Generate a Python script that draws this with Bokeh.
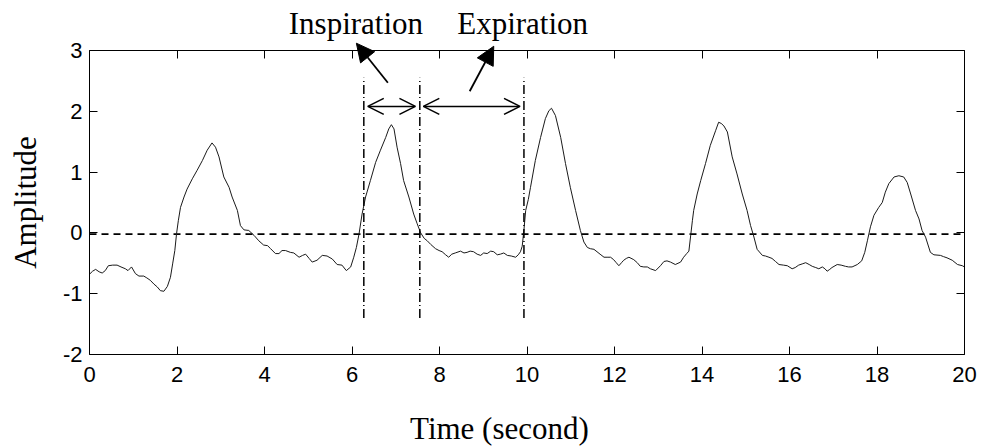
import math
from bokeh.plotting import figure
from bokeh.models import (Range1d, LinearAxis, FixedTicker, Arrow, OpenHead,
                          NormalHead, Label, CustomJSTickFormatter, ColumnDataSource)
from bokeh.embed import file_html
from bokeh.resources import INLINE

# Respiratory signal (time in seconds, normalised amplitude)
time_s = [
    0.00, 0.07, 0.14, 0.22, 0.29, 0.36, 0.43, 0.53, 0.63, 0.72, 0.82, 0.88, 0.96,
    1.05, 1.13, 1.24, 1.31, 1.39, 1.47, 1.55, 1.62, 1.70, 1.78, 1.85, 1.90, 1.95,
    1.99, 2.03, 2.08, 2.16, 2.23, 2.35, 2.46, 2.58, 2.69, 2.80, 2.88, 2.96, 3.07,
    3.19, 3.26, 3.38, 3.45, 3.53, 3.64, 3.76, 3.87, 3.98, 4.07, 4.14, 4.25, 4.33,
    4.40, 4.48, 4.59, 4.67, 4.79, 4.87, 4.94, 5.02, 5.09, 5.20, 5.32, 5.43, 5.55,
    5.66, 5.77, 5.87, 5.97, 6.04, 6.10, 6.16, 6.23, 6.31, 6.42, 6.54, 6.65, 6.77,
    6.84, 6.90, 6.96, 7.03, 7.11, 7.18, 7.30, 7.41, 7.49, 7.57, 7.65, 7.72, 7.80,
    7.91, 7.99, 8.06, 8.14, 8.21, 8.28, 8.36, 8.48, 8.56, 8.63, 8.70, 8.78, 8.86,
    8.94, 9.01, 9.09, 9.17, 9.24, 9.32, 9.39, 9.47, 9.55, 9.64, 9.74, 9.80, 9.85,
    9.89, 9.93, 9.97, 10.03, 10.08, 10.19, 10.31, 10.42, 10.50, 10.56, 10.65,
    10.77, 10.88, 10.99, 11.11, 11.22, 11.30, 11.38, 11.45, 11.53, 11.60, 11.67,
    11.76, 11.83, 11.91, 11.98, 12.04, 12.10, 12.16, 12.21, 12.27, 12.33, 12.44,
    12.52, 12.59, 12.67, 12.75, 12.82, 12.94, 13.05, 13.13, 13.20, 13.28, 13.39,
    13.51, 13.58, 13.65, 13.70, 13.74, 13.78, 13.81, 13.89, 13.97, 14.08, 14.19,
    14.31, 14.38, 14.44, 14.50, 14.58, 14.69, 14.80, 14.92, 15.03, 15.11, 15.18,
    15.26, 15.38, 15.45, 15.53, 15.60, 15.68, 15.76, 15.86, 15.95, 16.06, 16.13,
    16.21, 16.29, 16.37, 16.45, 16.52, 16.60, 16.67, 16.75, 16.81, 16.86, 16.92,
    16.97, 17.09, 17.18, 17.28, 17.35, 17.43, 17.55, 17.65, 17.72, 17.78, 17.85,
    17.93, 18.04, 18.12, 18.19, 18.27, 18.39, 18.50, 18.61, 18.69, 18.77, 18.88,
    18.96, 19.03, 19.11, 19.22, 19.30, 19.45, 19.52, 19.60, 19.72, 19.84, 19.95,
    20.00,
]
amplitude = [
    -0.68, -0.63, -0.60, -0.64, -0.66, -0.62, -0.54, -0.53, -0.53, -0.56, -0.59, -0.62, -0.56,
    -0.67, -0.71, -0.71, -0.74, -0.78, -0.84, -0.89, -0.95, -0.96, -0.88, -0.73, -0.51, -0.29,
    -0.01, 0.20, 0.42, 0.59, 0.72, 0.89, 1.03, 1.19, 1.36, 1.48, 1.41, 1.25, 0.92,
    0.75, 0.59, 0.37, 0.12, 0.05, 0.04, -0.04, -0.13, -0.20, -0.21, -0.26, -0.34, -0.34,
    -0.29, -0.29, -0.32, -0.33, -0.40, -0.37, -0.35, -0.42, -0.48, -0.45, -0.37, -0.38, -0.43,
    -0.52, -0.53, -0.62, -0.56, -0.40, -0.24, -0.02, 0.31, 0.59, 0.86, 1.16, 1.36, 1.57,
    1.71, 1.78, 1.71, 1.41, 1.14, 0.86, 0.59, 0.31, 0.15, 0.00, -0.09, -0.13, -0.19,
    -0.26, -0.29, -0.31, -0.36, -0.40, -0.35, -0.33, -0.30, -0.33, -0.32, -0.30, -0.31, -0.35,
    -0.37, -0.33, -0.34, -0.30, -0.31, -0.36, -0.35, -0.33, -0.37, -0.38, -0.40, -0.36, -0.31,
    -0.22, 0.05, 0.37, 0.55, 0.75, 1.19, 1.57, 1.88, 2.01, 2.05, 1.93,
    1.57, 1.14, 0.75, 0.37, 0.04, -0.15, -0.24, -0.26, -0.27, -0.31, -0.35,
    -0.40, -0.40, -0.40, -0.44, -0.49, -0.54, -0.49, -0.45, -0.42, -0.40, -0.44,
    -0.49, -0.55, -0.56, -0.56, -0.59, -0.62, -0.54, -0.47, -0.46, -0.48, -0.52,
    -0.48, -0.40, -0.34, -0.30, -0.05, 0.20, 0.37, 0.64, 0.86, 1.14, 1.44,
    1.68, 1.82, 1.80, 1.76, 1.66, 1.25, 0.97, 0.64, 0.37, 0.12, -0.05,
    -0.27, -0.37, -0.38, -0.40, -0.42, -0.47, -0.52, -0.53, -0.54, -0.59, -0.57,
    -0.53, -0.51, -0.49, -0.52, -0.55, -0.57, -0.59, -0.56, -0.59, -0.63, -0.60,
    -0.57, -0.52, -0.53, -0.55, -0.56, -0.56, -0.52, -0.46, -0.32, -0.13, 0.10,
    0.29, 0.42, 0.50, 0.67, 0.81, 0.92, 0.94, 0.92, 0.83, 0.64, 0.37,
    0.23, 0.04, -0.07, -0.32, -0.36, -0.37, -0.39, -0.41, -0.45, -0.52, -0.54,
    -0.56,
]

x_ticks = [0, 2, 4, 6, 8, 10, 12, 14, 16, 18, 20]
y_ticks = [-2, -1, 0, 1, 2, 3]
x_lim = (0, 20)
y_lim = (-2, 3)

baseline = -0.02                       # zero reference level
phase_marks = [6.27, 7.55, 9.93]       # start of inspiration, switch, end of expiration
mark_low, mark_high = -1.4, 2.55

span_level = 2.08
insp_span = (6.36, 7.45)
exp_span = (7.63, 9.84)
insp_pointer = ((6.82, 2.47), (6.10, 3.12))
exp_pointer = ((8.69, 2.33), (9.24, 3.07))
insp_text = ("Inspiration", 6.09, 3.45)
exp_text = ("Expiration", 9.90, 3.45)
xlabel_text = ("Time (second)", 9.37, -3.22)
ylabel_text = ("Amplitude", -1.46, 0.5)

SERIF = "Liberation Serif"
SANS = "Liberation Sans"

# The drawing area spans the whole canvas so that the annotations above the
# axes box are not clipped; the box itself sits at these pixel margins.
W, H = 981, 446
box_l, box_r, box_t, box_b = 89, 964, 50, 354
ux = (x_lim[1] - x_lim[0]) / (box_r - box_l)
uy = (y_lim[1] - y_lim[0]) / (box_b - box_t)
x_range = Range1d(x_lim[0] - box_l * ux, x_lim[1] + (W - box_r) * ux)
y_range = Range1d(y_lim[0] - (H - box_b) * uy, y_lim[1] + box_t * uy)

p = figure(width=W, height=H, output_backend="svg", toolbar_location=None,
           x_range=x_range, y_range=y_range, x_axis_location=None,
           y_axis_location=None, min_border=0, min_border_left=0,
           min_border_right=0, min_border_top=0, min_border_bottom=0,
           background_fill_color="white", border_fill_color="white")
p.grid.visible = False
p.outline_line_color = None

xt = FixedTicker(ticks=x_ticks)
yt = FixedTicker(ticks=y_ticks)
plain = CustomJSTickFormatter(code="return tick.toString()")
blank = CustomJSTickFormatter(code="return ''")


def box_axis(ticker, formatter, loc, bounds, standoff):
    return LinearAxis(ticker=ticker, formatter=formatter, fixed_location=loc,
                      bounds=bounds, major_tick_in=8, major_tick_out=0,
                      minor_tick_line_color=None, axis_line_color="black",
                      axis_line_width=1, major_tick_line_color="black",
                      major_label_standoff=standoff,
                      major_label_text_font=SANS,
                      major_label_text_font_size="22px",
                      major_label_text_color="black")


p.add_layout(box_axis(xt, plain, y_lim[0], x_lim, 12), "below")
p.add_layout(box_axis(yt, plain, x_lim[0], y_lim, 7), "left")
p.add_layout(box_axis(xt, blank, y_lim[1], x_lim, 0), "above")
p.add_layout(box_axis(yt, blank, x_lim[1], y_lim, 0), "right")

# zero reference
p.line(x=list(x_lim), y=[baseline, baseline], line_color="black",
       line_width=1.6, line_dash="7 5")

# breathing signal
src = ColumnDataSource(dict(t=time_s, a=amplitude))
p.line(x="t", y="a", source=src, line_color="#1a1a1a", line_width=1)

# phase boundaries
p.segment(x0=phase_marks, y0=[mark_low] * len(phase_marks),
          x1=phase_marks, y1=[mark_high] * len(phase_marks),
          line_color="black", line_width=1.5, line_dash="9 3 1 3")

# phase duration arrows
for a, b in (insp_span, exp_span):
    p.add_layout(Arrow(x_start=a, y_start=span_level, x_end=b, y_end=span_level,
                       start=OpenHead(size=16, line_width=1.5, line_color="black"),
                       end=OpenHead(size=16, line_width=1.5, line_color="black"),
                       line_width=1.6, line_color="black"))

# pointers to the phase names
for (s, e) in (insp_pointer, exp_pointer):
    p.add_layout(Arrow(x_start=s[0], y_start=s[1], x_end=e[0], y_end=e[1],
                       end=NormalHead(size=18, fill_color="black", line_color="black"),
                       line_width=1.8, line_color="black"))

for txt, x, y in (insp_text, exp_text, xlabel_text):
    p.add_layout(Label(x=x, y=y, text=txt, text_align="center",
                       text_baseline="alphabetic", text_font=SERIF,
                       text_font_size="31px", text_color="black"))

p.add_layout(Label(x=ylabel_text[1], y=ylabel_text[2], text=ylabel_text[0],
                   angle=math.pi / 2, text_align="center",
                   text_baseline="alphabetic", text_font=SERIF,
                   text_font_size="31px", text_color="black"))

open("out.html", "w").write(file_html(p, INLINE))
